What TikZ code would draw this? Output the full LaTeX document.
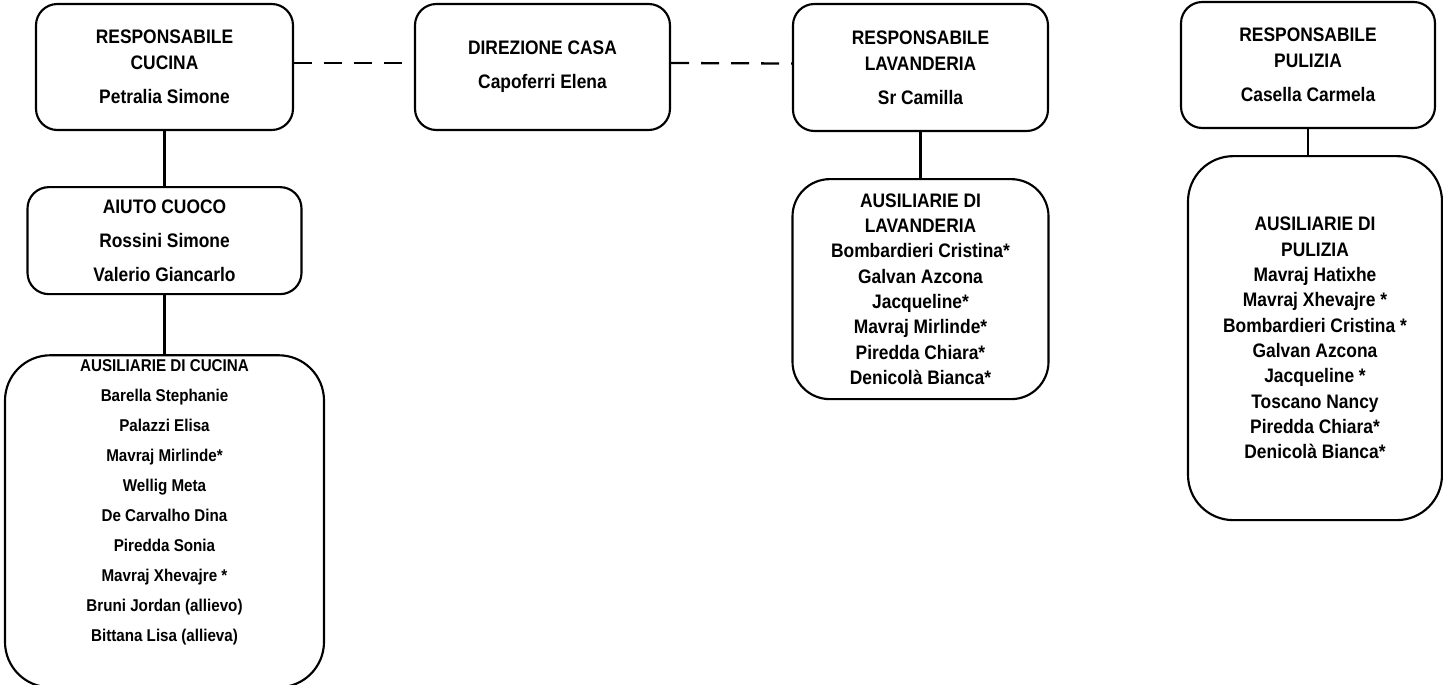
\documentclass[tikz,border=0pt]{standalone}
\usepackage{fontspec}
\newfontfamily\orgfont{Liberation Sans}[FakeStretch=0.89]
\usetikzlibrary{positioning}

\begin{document}
\begin{tikzpicture}[x=0.75pt, y=-0.75pt]
	\tikzset{
		boxstyle/.style={draw, line width=1.6pt, rounded corners=16pt, align=center, inner sep=0pt, font={\orgfont\bfseries\fontsize{14.66}{19.5}\selectfont}},
		liststyle/.style={boxstyle, font={\orgfont\bfseries\fontsize{14.66}{19}\selectfont}},
		linkstyle/.style={line width=1.9pt},
		dashstyle/.style={line width=1.7pt, dash pattern=on 13.5pt off 9pt},
	}

	\useasboundingbox (0,0) rectangle (1443,685);

	% top row
	\node[boxstyle, minimum width=192.75pt, minimum height=94.5pt] (respcuc) at (164.5,67) {RESPONSABILE\\CUCINA\\[6pt]Petralia Simone};
	\node[boxstyle, minimum width=191.25pt, minimum height=94.5pt] (direz) at (542.5,67) {DIREZIONE CASA\\[6pt]Capoferri Elena};
	\node[boxstyle, minimum width=191.25pt, minimum height=95.25pt] (resplav) at (920.5,67.5) {RESPONSABILE\\LAVANDERIA\\[6pt]Sr Camilla};
	\node[boxstyle, minimum width=190.5pt, minimum height=94.5pt] (resppul) at (1308,65) {RESPONSABILE\\PULIZIA\\[6pt]Casella Carmela};

	% staff
	\node[boxstyle, minimum width=205.5pt, minimum height=80.25pt, below=41.25pt of respcuc] (aiuto) {AIUTO CUOCO\\[6pt]Rossini Simone\\[6pt]Valerio Giancarlo};
	\node[boxstyle, rounded corners=34pt, minimum width=239.25pt, minimum height=249pt, below=44.25pt of aiuto] (auxcuc) {};
	\node[align=center, inner sep=0pt, font={\orgfont\bfseries\fontsize{12.8}{22.5}\selectfont}, below=3.75pt of auxcuc.north] (cuclist) {AUSILIARIE DI CUCINA\\Barella Stephanie\\Palazzi Elisa\\Mavraj Mirlinde*\\Wellig Meta\\De Carvalho Dina\\Piredda Sonia\\Mavraj Xhevajre *\\Bruni Jordan (allievo)\\Bittana Lisa (allieva)};
	\node[liststyle, rounded corners=28pt, minimum width=192pt, minimum height=165pt, below=34.5pt of resplav] (auxlav) {AUSILIARIE DI\\LAVANDERIA\\Bombardieri Cristina*\\Galvan Azcona\\Jacqueline*\\Mavraj Mirlinde*\\Piredda Chiara*\\Denicolà Bianca*};
	\node[liststyle, rounded corners=34pt, minimum width=190.5pt, minimum height=273pt, below=19.5pt of resppul, xshift=5.25pt] (auxpul) {AUSILIARIE DI\\PULIZIA\\Mavraj Hatixhe\\Mavraj Xhevajre *\\Bombardieri Cristina *\\Galvan Azcona\\Jacqueline *\\Toscano Nancy\\Piredda Chiara*\\Denicolà Bianca*};

	% links
	\draw[dashstyle] ([yshift=3pt]respcuc.east) -- ([yshift=3pt]direz.west);
	\draw[dashstyle] ([yshift=3pt]direz.east) -- ([yshift=3pt]resplav.west);
	\foreach \a/\b in {respcuc/aiuto, aiuto/auxcuc, resplav/auxlav}
		{
			\draw[linkstyle] (\a) -- (\b);
		}
	\draw[linkstyle] (resppul.south) -- (resppul.south |- auxpul.north);
\end{tikzpicture}
\end{document}
